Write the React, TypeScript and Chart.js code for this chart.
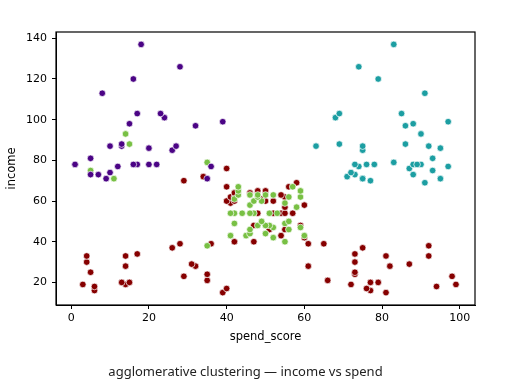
import React, { useEffect, useRef } from "react";
import { Chart, registerables } from "chart.js";

Chart.register(...registerables);

// spend_score (x) / income (y) per cluster
const tealSpend = [91, 77, 95, 75, 75, 71, 88, 73, 72, 93, 87, 97, 74, 90, 88, 76, 89, 78, 73, 83, 93, 75, 95, 63, 75, 92, 86, 69, 90, 86, 88, 97, 68, 85, 69, 91, 79, 74, 83];
const tealIncome = [69, 70, 71, 71, 71, 72, 73, 73, 74, 75, 76, 77, 77, 78, 78, 78, 78, 78, 78, 79, 81, 85, 86, 87, 87, 87, 88, 88, 93, 97, 98, 99, 101, 103, 103, 113, 120, 126, 137];

const purpleSpend = [35, 9, 5, 7, 10, 12, 36, 22, 17, 20, 16, 1, 1, 5, 26, 20, 27, 13, 10, 13, 32, 15, 39, 24, 17, 23, 8, 16, 28, 18];
const purpleIncome = [71, 71, 73, 73, 74, 77, 77, 78, 78, 78, 78, 78, 78, 81, 85, 86, 87, 87, 87, 88, 97, 98, 99, 101, 103, 103, 113, 120, 126, 137];

const greenSpend = [11, 5, 35, 15, 14, 35, 55, 52, 60, 45, 41, 50, 46, 46, 56, 52, 59, 51, 50, 48, 55, 42, 49, 56, 47, 53, 42, 51, 41, 44, 46, 58, 46, 55, 49, 47, 42, 48, 59, 56, 50, 46, 43, 48, 52, 43, 59, 43, 57];
const greenIncome = [71, 75, 79, 88, 93, 38, 40, 42, 43, 43, 43, 44, 44, 46, 46, 47, 47, 48, 48, 48, 49, 49, 50, 50, 54, 54, 54, 54, 54, 54, 54, 57, 58, 59, 60, 60, 61, 62, 62, 62, 63, 63, 63, 63, 63, 65, 65, 67, 67];

const redSpend = [39, 6, 40, 6, 3, 14, 15, 13, 35, 29, 35, 5, 14, 32, 31, 4, 4, 14, 17, 26, 36, 28,
  81, 77, 76, 94, 72, 99, 77, 79, 66, 98, 73, 73, 82, 61, 87, 73, 92, 81, 73, 75, 92, 61, 65,
  47, 42, 42, 60, 54, 51, 55, 59, 59, 47, 54, 48, 52, 55, 57, 55, 60, 41, 40, 42, 52, 50, 49, 41, 55, 42, 54, 42, 46, 48, 50, 56, 40, 58,
  29, 34, 40];
const redIncome = [15, 16, 17, 18, 19, 19, 20, 20, 21, 23, 24, 25, 28, 28, 29, 30, 33, 33, 34, 37, 39, 39,
  15, 16, 17, 18, 19, 19, 20, 20, 21, 23, 24, 25, 28, 28, 29, 30, 33, 33, 34, 37, 38, 39, 39,
  40, 40, 40, 42, 43, 46, 46, 48, 48, 48, 54, 54, 54, 54, 54, 57, 58, 59, 60, 60, 60, 60, 61, 62, 62, 62, 63, 64, 64, 65, 65, 67, 67, 69,
  70, 72, 76];

const xTicks = [0, 20, 40, 60, 80, 100];
const yTicks = [20, 40, 60, 80, 100, 120, 140];

const toPts = (xs: number[], ys: number[]) => xs.map((x, i) => ({ x, y: ys[i] }));

const boxPlugin = {
  id: "box",
  afterDraw(chart: any) {
    const { ctx, chartArea } = chart;
    ctx.save();
    ctx.strokeStyle = "#000";
    ctx.lineWidth = 1.2;
    ctx.strokeRect(chartArea.left, chartArea.top, chartArea.right - chartArea.left, chartArea.bottom - chartArea.top);
    ctx.restore();
  },
};

export default function App() {
  const ref = useRef<HTMLCanvasElement | null>(null);
  useEffect(() => {
    if (!ref.current) return;
    const mk = (label: string, xs: number[], ys: number[], color: string) => ({
      label,
      data: toPts(xs, ys),
      backgroundColor: color,
      borderColor: "#ffffff",
      borderWidth: 0.7,
      pointRadius: 3.3,
    });
    const tickFont = { family: "'DejaVu Sans', sans-serif", size: 11 };
    const chart = new Chart(ref.current, {
      type: "scatter",
      data: {
        datasets: [
          mk("purple", purpleSpend, purpleIncome, "#4b0485"),
          mk("teal", tealSpend, tealIncome, "#1c9ea2"),
          mk("green", greenSpend, greenIncome, "#78c044"),
          mk("red", redSpend, redIncome, "#860000"),
        ],
      },
      options: {
        animation: false,
        responsive: false,
        maintainAspectRatio: false,
        events: [],
        layout: { padding: { left: 0, right: 40, top: 32, bottom: 32 } },
        plugins: { legend: { display: false }, tooltip: { enabled: false } },
        scales: {
          x: {
            type: "linear",
            min: -3.9,
            max: 103.9,
            afterBuildTicks: (s: any) => { s.ticks = xTicks.map((v) => ({ value: v })); },
            afterFit: (s: any) => { s.height = 50; },
            ticks: { font: tickFont, color: "#000", padding: 3, maxRotation: 0 },
            grid: { drawOnChartArea: false, drawTicks: true, tickLength: 4, color: "#000", tickColor: "#000" },
            border: { display: true, color: "#000" },
            title: { display: true, text: "spend_score", font: { family: "'DejaVu Sans', sans-serif", size: 11.5 }, color: "#000", padding: { top: 0, bottom: 11 } },
          },
          y: {
            type: "linear",
            min: 8.9,
            max: 143.1,
            afterBuildTicks: (s: any) => { s.ticks = yTicks.map((v) => ({ value: v })); },
            afterFit: (s: any) => { s.width = 56; },
            ticks: { font: tickFont, color: "#000", padding: 5 },
            grid: { drawOnChartArea: false, drawTicks: true, tickLength: 4, color: "#000", tickColor: "#000" },
            border: { display: true, color: "#000" },
            title: { display: true, text: "income", font: { family: "'DejaVu Sans', sans-serif", size: 11.5 }, color: "#000", padding: { top: 5, bottom: 0 } },
          },
        },
      },
      plugins: [boxPlugin],
    });
    return () => chart.destroy();
  }, []);

  return (
    <div style={{ position: "absolute", left: 0, top: 0, width: 515, height: 387, background: "#fff" }}>
      <canvas ref={ref} width={515} height={387} style={{ display: "block", width: 515, height: 387 }} />
      <div
        style={{
          position: "absolute",
          left: 0,
          width: 491,
          top: 363,
          textAlign: "center",
          fontFamily: "'Noto Sans', sans-serif",
          fontSize: 13,
          lineHeight: "16px",
          color: "#222",
        }}
      >
        agglomerative clustering — income vs spend
      </div>
    </div>
  );
}
